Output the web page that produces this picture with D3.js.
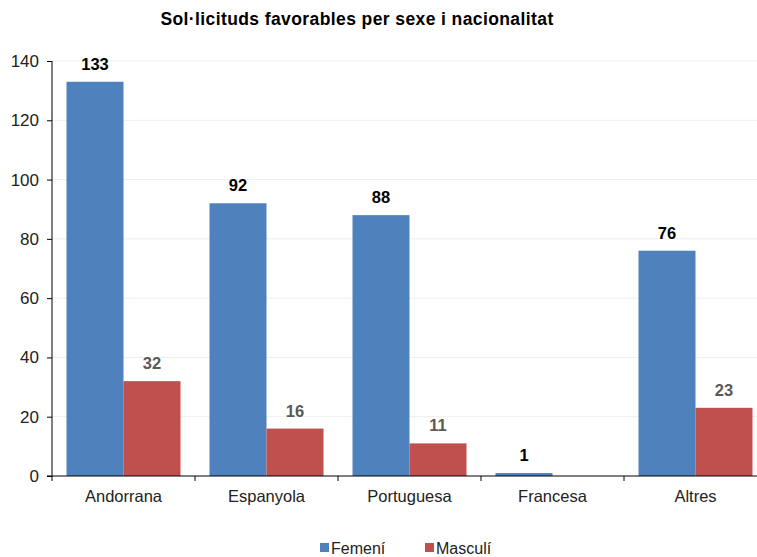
<!DOCTYPE html>
<html>
<head>
<meta charset="utf-8">
<script src="https://cdn.jsdelivr.net/npm/d3@7"></script>
<style>
  body { margin: 0; background: #fff; }
  svg text { font-family: "Liberation Sans", Arial, sans-serif; }
</style>
</head>
<body>
<svg width="757" height="557"></svg>
<script>
var categories = ["Andorrana", "Espanyola", "Portuguesa", "Francesa", "Altres"];
var seriesNames = ["Femení", "Masculí"];
var femeni = [133, 92, 88, 1, 76];
var masculi = [32, 16, 11, null, 23];
var yTicks = [0, 20, 40, 60, 80, 100, 120, 140];
var colors = ["#4f81bd", "#c0504d"];
var labelColors = ["#000000", "#595959"];

var svg = d3.select("svg"),
    margin = {top: 61, left: 52},
    height = 476 - margin.top,
    width = 143 * 5,
    g = svg.append("g").attr("transform", "translate(" + margin.left + "," + margin.top + ")");

var x = d3.scaleBand().domain(categories).range([0, width]).paddingInner(0).paddingOuter(0);
var x1 = d3.scaleBand().domain(seriesNames).range([14.5, 143 - 14.5]);
var y = d3.scaleLinear().domain([0, 140]).range([height, 0]);

// gridlines
g.selectAll(".grid")
    .data(yTicks.slice(1))
    .enter()
    .append("line")
    .attr("x1", 0).attr("x2", 757)
    .attr("y1", function(d) { return y(d); })
    .attr("y2", function(d) { return y(d); })
    .attr("stroke", "#eeeeee")
    .attr("stroke-width", 1);

var rows = categories.map(function(c, i) {
    return {cat: c, vals: [femeni[i], masculi[i]]};
});

var group = g.selectAll(".group")
    .data(rows)
    .enter()
    .append("g")
    .attr("transform", function(d) { return "translate(" + x(d.cat) + ",0)"; });

var bars = group.selectAll("g.bar")
    .data(function(d) {
        return d.vals.map(function(v, k) { return {s: seriesNames[k], k: k, v: v}; })
            .filter(function(e) { return e.v != null; });
    })
    .enter()
    .append("g");

bars.append("rect")
    .attr("x", function(d) { return x1(d.s); })
    .attr("width", x1.bandwidth())
    .attr("y", function(d) { return y(d.v); })
    .attr("height", function(d) { return height - y(d.v); })
    .attr("fill", function(d) { return colors[d.k]; });

bars.append("text")
    .attr("x", function(d) { return x1(d.s) + x1.bandwidth() / 2; })
    .attr("y", function(d) { return y(d.v) - 12; })
    .attr("text-anchor", "middle")
    .attr("font-size", "16.5px")
    .attr("font-weight", "bold")
    .attr("fill", function(d) { return labelColors[d.k]; })
    .text(function(d) { return d.v; });

// y axis
var yAxis = g.append("g")
    .call(d3.axisLeft(y).tickValues(yTicks).tickSize(5).tickPadding(8));
yAxis.select(".domain").attr("stroke", "#000").attr("d", "M0," + height + "V0");
yAxis.selectAll(".tick line").attr("stroke", "#000");
yAxis.selectAll("text").attr("font-size", "17px").attr("fill", "#222")
    .style("font-family", "'Liberation Sans', Arial, sans-serif");

// x axis
var xAxis = g.append("g").attr("transform", "translate(0," + height + ")")
    .call(d3.axisBottom(x).tickSize(0).tickPadding(14));
xAxis.select(".domain").attr("stroke", "#000").attr("d", "M-5,0H" + width);
xAxis.selectAll("text").attr("font-size", "16.5px").attr("fill", "#222")
    .style("font-family", "'Liberation Sans', Arial, sans-serif");
xAxis.selectAll(".xt")
    .data(d3.range(categories.length + 1))
    .enter()
    .append("line")
    .attr("x1", function(d) { return d * x.step(); })
    .attr("x2", function(d) { return d * x.step(); })
    .attr("y1", 0).attr("y2", 5)
    .attr("stroke", "#000");

// title
svg.append("text")
    .attr("x", 357).attr("y", 25)
    .attr("text-anchor", "middle")
    .attr("font-size", "17.5px")
    .attr("font-weight", "bold")
    .attr("letter-spacing", "0.4px")
    .attr("fill", "#000")
    .text("Sol·licituds favorables per sexe i nacionalitat");

// legend
var legendX = [320, 425];
var legend = svg.selectAll(".legend")
    .data(seriesNames)
    .enter()
    .append("g")
    .attr("transform", function(d, i) { return "translate(" + legendX[i] + ",543)"; });
legend.append("rect").attr("width", 9).attr("height", 9)
    .attr("fill", function(d, i) { return colors[i]; });
legend.append("text").attr("x", 11).attr("y", 11)
    .attr("font-size", "16px").attr("fill", "#222")
    .text(function(d) { return d; });
</script>
</body>
</html>
